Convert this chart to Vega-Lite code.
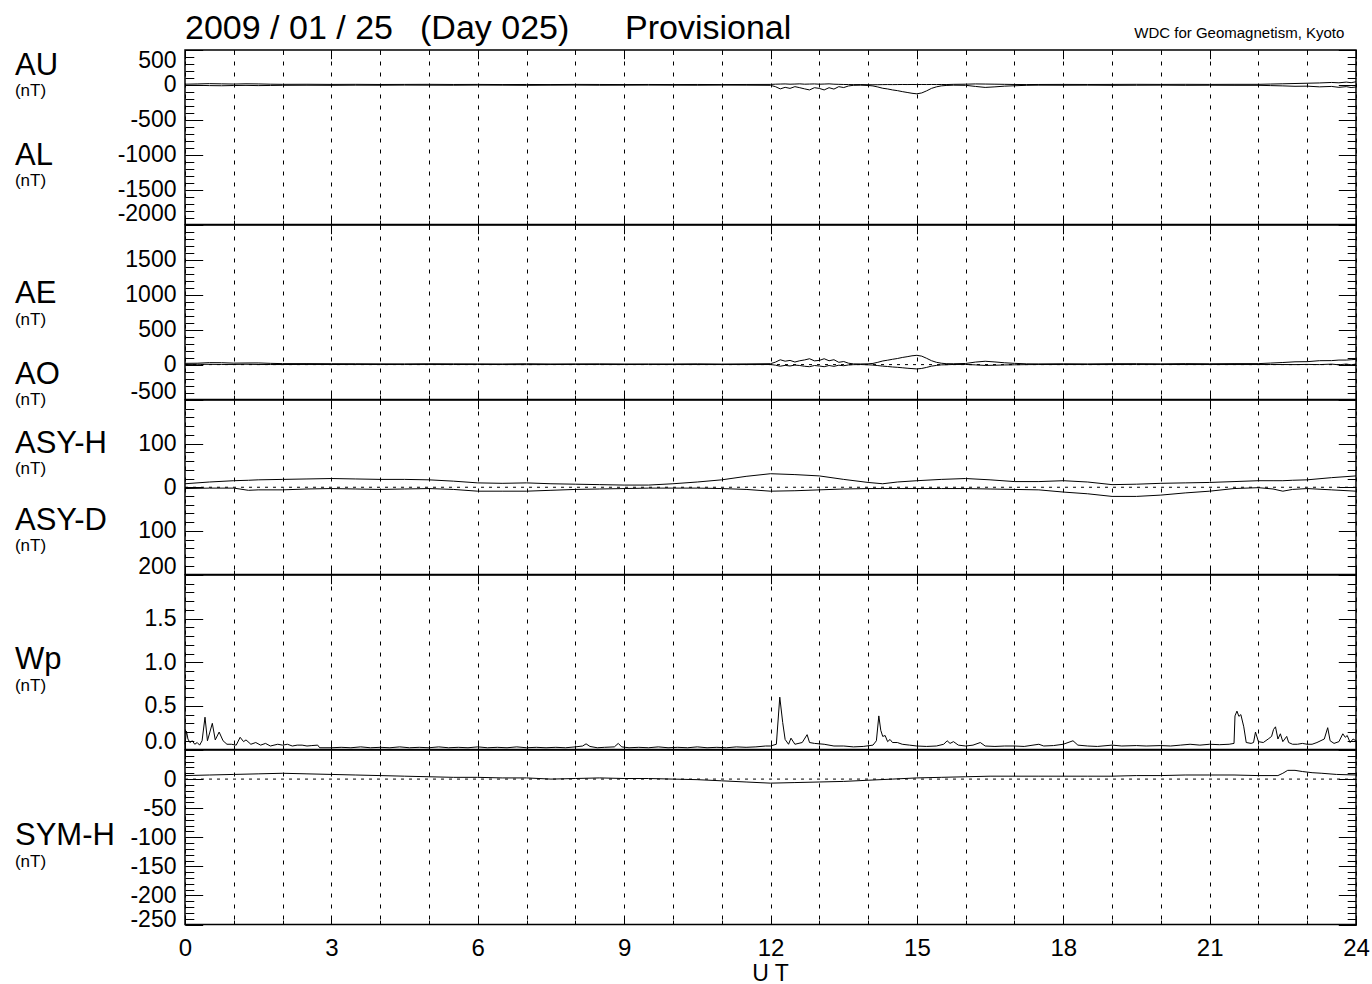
{
  "$schema": "https://vega.github.io/schema/vega-lite/v6.json",
  "padding": {"left": 14, "top": 11, "right": 0, "bottom": 0},
  "background": "white",
  "config": {
    "view": {"stroke": "black", "strokeWidth": 1.5},
    "font": "Liberation Sans",
    "axis": {"domain": false, "tickColor": "black", "tickWidth": 1, "labelColor": "black", "labelFont": "Liberation Sans", "labelFontSize": 23, "labelOverlap": false, "grid": false},
    "text": {"font": "Liberation Sans", "fontWeight": "normal"},
    "line": {"color": "black", "strokeWidth": 1},
    "rule": {"color": "black"}
  },
  "datasets": {
    "one": [{}],
    "ae": [
      {"t":0.0,"au":10,"al":-8,"ae":18,"ao":1},{"t":0.25,"au":14,"al":-6,"ae":20,"ao":4},{"t":0.5,"au":18,"al":-10,"ae":28,"ao":4},{"t":0.75,"au":15,"al":-12,"ae":27,"ao":2},
      {"t":1.0,"au":12,"al":-9,"ae":21,"ao":2},{"t":1.25,"au":16,"al":-7,"ae":23,"ao":5},{"t":1.5,"au":14,"al":-10,"ae":24,"ao":2},{"t":1.75,"au":10,"al":-8,"ae":18,"ao":1},
      {"t":2.0,"au":8,"al":-6,"ae":14,"ao":1},{"t":2.5,"au":9,"al":-5,"ae":14,"ao":2},{"t":3.0,"au":7,"al":-6,"ae":13,"ao":1},{"t":3.5,"au":8,"al":-4,"ae":12,"ao":2},
      {"t":4.0,"au":6,"al":-5,"ae":11,"ao":1},{"t":4.5,"au":7,"al":-3,"ae":10,"ao":2},{"t":5.0,"au":8,"al":-4,"ae":12,"ao":2},{"t":5.5,"au":6,"al":-5,"ae":11,"ao":1},
      {"t":6.0,"au":7,"al":-3,"ae":10,"ao":2},{"t":6.5,"au":5,"al":-4,"ae":9,"ao":1},{"t":7.0,"au":6,"al":-6,"ae":12,"ao":0},{"t":7.5,"au":5,"al":-4,"ae":9,"ao":1},
      {"t":8.0,"au":7,"al":-3,"ae":10,"ao":2},{"t":8.5,"au":6,"al":-5,"ae":11,"ao":1},{"t":9.0,"au":5,"al":-4,"ae":9,"ao":1},{"t":9.5,"au":6,"al":-3,"ae":9,"ao":2},
      {"t":10.0,"au":5,"al":-4,"ae":9,"ao":1},{"t":10.5,"au":6,"al":-5,"ae":11,"ao":1},{"t":11.0,"au":5,"al":-3,"ae":8,"ao":1},{"t":11.5,"au":6,"al":-4,"ae":10,"ao":1},
      {"t":12.0,"au":7,"al":-6,"ae":13,"ao":1},{"t":12.1,"au":10,"al":-25,"ae":35,"ao":-8},{"t":12.2,"au":12,"al":-57,"ae":69,"ao":-23},{"t":12.3,"au":14,"al":-35,"ae":49,"ao":-11},
      {"t":12.4,"au":10,"al":-50,"ae":60,"ao":-20},{"t":12.5,"au":12,"al":-25,"ae":37,"ao":-7},{"t":12.6,"au":15,"al":-40,"ae":55,"ao":-13},{"t":12.7,"au":10,"al":-57,"ae":67,"ao":-24},
      {"t":12.8,"au":12,"al":-72,"ae":84,"ao":-30},{"t":12.9,"au":14,"al":-40,"ae":54,"ao":-13},{"t":13.0,"au":10,"al":-50,"ae":60,"ao":-20},{"t":13.1,"au":12,"al":-72,"ae":84,"ao":-30},
      {"t":13.2,"au":15,"al":-40,"ae":55,"ao":-13},{"t":13.3,"au":10,"al":-60,"ae":70,"ao":-25},{"t":13.4,"au":8,"al":-25,"ae":33,"ao":-9},{"t":13.5,"au":6,"al":-38,"ae":44,"ao":-16},
      {"t":13.6,"au":5,"al":-15,"ae":20,"ao":-5},{"t":13.7,"au":4,"al":-6,"ae":10,"ao":-1},{"t":13.85,"au":5,"al":-4,"ae":9,"ao":1},{"t":14.0,"au":3,"al":-8,"ae":11,"ao":-3},
      {"t":14.1,"au":2,"al":-15,"ae":17,"ao":-7},{"t":14.2,"au":3,"al":-30,"ae":33,"ao":-14},{"t":14.3,"au":4,"al":-48,"ae":52,"ao":-22},{"t":14.4,"au":5,"al":-58,"ae":63,"ao":-27},
      {"t":14.5,"au":4,"al":-72,"ae":76,"ao":-34},{"t":14.6,"au":5,"al":-82,"ae":87,"ao":-39},{"t":14.7,"au":6,"al":-96,"ae":102,"ao":-45},{"t":14.8,"au":5,"al":-108,"ae":113,"ao":-52},
      {"t":14.9,"au":6,"al":-120,"ae":126,"ao":-57},{"t":15.0,"au":5,"al":-128,"ae":133,"ao":-62},{"t":15.1,"au":6,"al":-115,"ae":121,"ao":-55},{"t":15.2,"au":5,"al":-85,"ae":90,"ao":-40},
      {"t":15.3,"au":6,"al":-50,"ae":56,"ao":-22},{"t":15.4,"au":5,"al":-28,"ae":33,"ao":-12},{"t":15.5,"au":6,"al":-14,"ae":20,"ao":-4},{"t":15.6,"au":5,"al":-8,"ae":13,"ao":-2},
      {"t":15.75,"au":8,"al":-4,"ae":12,"ao":2},{"t":16.0,"au":10,"al":-6,"ae":16,"ao":2},{"t":16.2,"au":14,"al":-22,"ae":36,"ao":-4},{"t":16.4,"au":12,"al":-36,"ae":48,"ao":-12},
      {"t":16.6,"au":10,"al":-28,"ae":38,"ao":-9},{"t":16.8,"au":8,"al":-18,"ae":26,"ao":-5},{"t":17.0,"au":6,"al":-12,"ae":18,"ao":-3},{"t":17.25,"au":5,"al":-6,"ae":11,"ao":0},
      {"t":17.5,"au":6,"al":-4,"ae":10,"ao":1},{"t":18.0,"au":7,"al":-5,"ae":12,"ao":1},{"t":18.5,"au":6,"al":-4,"ae":10,"ao":1},{"t":19.0,"au":7,"al":-6,"ae":13,"ao":1},
      {"t":19.5,"au":8,"al":-5,"ae":13,"ao":2},{"t":20.0,"au":7,"al":-4,"ae":11,"ao":2},{"t":20.5,"au":8,"al":-6,"ae":14,"ao":1},{"t":21.0,"au":7,"al":-5,"ae":12,"ao":1},
      {"t":21.5,"au":8,"al":-6,"ae":14,"ao":1},{"t":22.0,"au":8,"al":-6,"ae":14,"ao":1},{"t":22.25,"au":12,"al":-10,"ae":22,"ao":1},{"t":22.5,"au":16,"al":-14,"ae":30,"ao":1},
      {"t":22.75,"au":20,"al":-20,"ae":40,"ao":0},{"t":23.0,"au":24,"al":-18,"ae":42,"ao":3},{"t":23.25,"au":28,"al":-28,"ae":56,"ao":0},{"t":23.5,"au":35,"al":-22,"ae":57,"ao":7},
      {"t":23.65,"au":30,"al":-35,"ae":65,"ao":-3},{"t":23.8,"au":40,"al":-25,"ae":65,"ao":8},{"t":23.9,"au":32,"al":-38,"ae":70,"ao":-3},{"t":24.0,"au":45,"al":-30,"ae":75,"ao":8}
    ],
    "asy": [
      {"t":0,"asyh":8,"asyd":3},{"t":0.5,"asyh":12,"asyd":2},{"t":1,"asyh":15,"asyd":2},{"t":1.3,"asyh":16,"asyd":7},{"t":1.5,"asyh":17,"asyd":6},
      {"t":2,"asyh":18,"asyd":6},{"t":2.5,"asyh":19,"asyd":4},{"t":3,"asyh":20,"asyd":3},{"t":3.5,"asyh":19,"asyd":4},{"t":4,"asyh":18,"asyd":5},
      {"t":4.5,"asyh":18,"asyd":4},{"t":5,"asyh":17,"asyd":3},{"t":5.5,"asyh":14,"asyd":5},{"t":6,"asyh":10,"asyd":9},{"t":6.5,"asyh":9,"asyd":9},
      {"t":7,"asyh":10,"asyd":9},{"t":7.5,"asyh":8,"asyd":7},{"t":8,"asyh":7,"asyd":5},{"t":8.5,"asyh":6,"asyd":4},{"t":9,"asyh":5,"asyd":3},
      {"t":9.5,"asyh":5,"asyd":2},{"t":10,"asyh":8,"asyd":2},{"t":10.5,"asyh":12,"asyd":2},{"t":11,"asyh":17,"asyd":3},{"t":11.5,"asyh":25,"asyd":5},
      {"t":12,"asyh":31,"asyd":9},{"t":12.5,"asyh":29,"asyd":8},{"t":13,"asyh":26,"asyd":6},{"t":13.5,"asyh":18,"asyd":4},{"t":14,"asyh":11,"asyd":3},
      {"t":14.3,"asyh":8,"asyd":3},{"t":14.6,"asyh":12,"asyd":3},{"t":15,"asyh":15,"asyd":3},{"t":15.5,"asyh":18,"asyd":3},{"t":16,"asyh":20,"asyd":3},
      {"t":16.5,"asyh":17,"asyd":4},{"t":17,"asyh":13,"asyd":5},{"t":17.5,"asyh":13,"asyd":6},{"t":18,"asyh":15,"asyd":11},{"t":18.5,"asyh":12,"asyd":15},
      {"t":19,"asyh":6,"asyd":21},{"t":19.5,"asyh":7,"asyd":21},{"t":20,"asyh":9,"asyd":18},{"t":20.5,"asyh":10,"asyd":13},{"t":21,"asyh":11,"asyd":9},
      {"t":21.5,"asyh":13,"asyd":3},{"t":22,"asyh":15,"asyd":1},{"t":22.3,"asyh":15,"asyd":4},{"t":22.5,"asyh":15,"asyd":9},{"t":22.7,"asyh":16,"asyd":5},
      {"t":23,"asyh":17,"asyd":3},{"t":23.5,"asyh":22,"asyd":6},{"t":24,"asyh":26,"asyd":9}
    ],
    "wp": [
      {"t":0,"wp":0.06},{"t":0.03,"wp":0.21},{"t":0.06,"wp":0.12},{"t":0.1,"wp":0.08},{"t":0.15,"wp":0.1},{"t":0.2,"wp":0.06},{"t":0.25,"wp":0.08},{"t":0.3,"wp":0.05},
      {"t":0.35,"wp":0.1},{"t":0.41,"wp":0.37},{"t":0.46,"wp":0.1},{"t":0.51,"wp":0.2},{"t":0.56,"wp":0.3},{"t":0.62,"wp":0.11},{"t":0.7,"wp":0.2},{"t":0.78,"wp":0.1},
      {"t":0.86,"wp":0.06},{"t":0.95,"wp":0.06},{"t":1.05,"wp":0.05},{"t":1.13,"wp":0.14},{"t":1.2,"wp":0.09},{"t":1.25,"wp":0.11},{"t":1.35,"wp":0.06},{"t":1.45,"wp":0.08},
      {"t":1.55,"wp":0.05},{"t":1.65,"wp":0.07},{"t":1.75,"wp":0.04},{"t":1.9,"wp":0.06},{"t":2.0,"wp":0.05},{"t":2.1,"wp":0.06},{"t":2.2,"wp":0.04},{"t":2.3,"wp":0.05},
      {"t":2.4,"wp":0.05},{"t":2.5,"wp":0.04},{"t":2.6,"wp":0.045},{"t":2.72,"wp":0.05},{"t":2.76,"wp":0.02},{"t":3.0,"wp":0.02},{"t":3.2,"wp":0.025},{"t":3.4,"wp":0.02},
      {"t":3.6,"wp":0.03},{"t":3.8,"wp":0.02},{"t":4.0,"wp":0.025},{"t":4.2,"wp":0.02},{"t":4.4,"wp":0.03},{"t":4.6,"wp":0.02},{"t":4.8,"wp":0.025},{"t":5.0,"wp":0.02},
      {"t":5.2,"wp":0.03},{"t":5.4,"wp":0.02},{"t":5.6,"wp":0.025},{"t":5.8,"wp":0.02},{"t":6.0,"wp":0.03},{"t":6.2,"wp":0.02},{"t":6.4,"wp":0.025},{"t":6.6,"wp":0.02},
      {"t":6.8,"wp":0.03},{"t":7.0,"wp":0.02},{"t":7.2,"wp":0.025},{"t":7.4,"wp":0.02},{"t":7.6,"wp":0.025},{"t":7.8,"wp":0.02},{"t":8.0,"wp":0.03},{"t":8.15,"wp":0.04},
      {"t":8.22,"wp":0.065},{"t":8.3,"wp":0.035},{"t":8.45,"wp":0.02},{"t":8.6,"wp":0.025},{"t":8.8,"wp":0.03},{"t":8.88,"wp":0.07},{"t":8.95,"wp":0.03},{"t":9.1,"wp":0.02},
      {"t":9.3,"wp":0.025},{"t":9.5,"wp":0.02},{"t":9.7,"wp":0.03},{"t":9.9,"wp":0.02},{"t":10.1,"wp":0.025},{"t":10.3,"wp":0.02},{"t":10.5,"wp":0.03},{"t":10.7,"wp":0.02},
      {"t":10.9,"wp":0.025},{"t":11.1,"wp":0.02},{"t":11.3,"wp":0.03},{"t":11.5,"wp":0.025},{"t":11.7,"wp":0.03},{"t":11.9,"wp":0.04},{"t":12.0,"wp":0.04},{"t":12.12,"wp":0.06},
      {"t":12.19,"wp":0.6},{"t":12.25,"wp":0.31},{"t":12.3,"wp":0.115},{"t":12.37,"wp":0.06},{"t":12.42,"wp":0.13},{"t":12.5,"wp":0.06},{"t":12.65,"wp":0.08},{"t":12.75,"wp":0.17},
      {"t":12.8,"wp":0.08},{"t":12.9,"wp":0.07},{"t":13.1,"wp":0.06},{"t":13.3,"wp":0.04},{"t":13.5,"wp":0.04},{"t":13.7,"wp":0.03},{"t":13.9,"wp":0.035},{"t":14.1,"wp":0.05},
      {"t":14.17,"wp":0.1},{"t":14.22,"wp":0.385},{"t":14.26,"wp":0.22},{"t":14.3,"wp":0.15},{"t":14.35,"wp":0.16},{"t":14.4,"wp":0.09},{"t":14.45,"wp":0.115},{"t":14.5,"wp":0.08},
      {"t":14.6,"wp":0.08},{"t":14.7,"wp":0.06},{"t":14.85,"wp":0.05},{"t":15.0,"wp":0.04},{"t":15.2,"wp":0.035},{"t":15.4,"wp":0.04},{"t":15.55,"wp":0.06},{"t":15.62,"wp":0.1},
      {"t":15.68,"wp":0.07},{"t":15.75,"wp":0.09},{"t":15.85,"wp":0.05},{"t":16.0,"wp":0.04},{"t":16.15,"wp":0.05},{"t":16.3,"wp":0.08},{"t":16.4,"wp":0.04},{"t":16.6,"wp":0.035},
      {"t":16.8,"wp":0.04},{"t":17.0,"wp":0.04},{"t":17.2,"wp":0.035},{"t":17.5,"wp":0.06},{"t":17.6,"wp":0.04},{"t":17.8,"wp":0.045},{"t":18.0,"wp":0.06},{"t":18.2,"wp":0.1},
      {"t":18.3,"wp":0.05},{"t":18.5,"wp":0.04},{"t":18.7,"wp":0.035},{"t":19.0,"wp":0.05},{"t":19.2,"wp":0.04},{"t":19.5,"wp":0.045},{"t":19.7,"wp":0.04},{"t":20.0,"wp":0.045},
      {"t":20.2,"wp":0.04},{"t":20.4,"wp":0.05},{"t":20.6,"wp":0.06},{"t":20.8,"wp":0.05},{"t":21.0,"wp":0.06},{"t":21.2,"wp":0.055},{"t":21.4,"wp":0.06},{"t":21.5,"wp":0.07},
      {"t":21.52,"wp":0.385},{"t":21.56,"wp":0.44},{"t":21.6,"wp":0.38},{"t":21.64,"wp":0.4},{"t":21.7,"wp":0.26},{"t":21.75,"wp":0.08},{"t":21.85,"wp":0.07},{"t":21.9,"wp":0.08},
      {"t":21.94,"wp":0.2},{"t":22.0,"wp":0.09},{"t":22.1,"wp":0.08},{"t":22.2,"wp":0.12},{"t":22.27,"wp":0.15},{"t":22.31,"wp":0.23},{"t":22.35,"wp":0.26},{"t":22.4,"wp":0.12},
      {"t":22.45,"wp":0.18},{"t":22.5,"wp":0.09},{"t":22.58,"wp":0.15},{"t":22.62,"wp":0.08},{"t":22.7,"wp":0.06},{"t":22.8,"wp":0.06},{"t":22.9,"wp":0.07},{"t":23.0,"wp":0.06},
      {"t":23.1,"wp":0.06},{"t":23.2,"wp":0.08},{"t":23.35,"wp":0.12},{"t":23.42,"wp":0.25},{"t":23.47,"wp":0.1},{"t":23.55,"wp":0.07},{"t":23.65,"wp":0.09},{"t":23.73,"wp":0.18},
      {"t":23.78,"wp":0.14},{"t":23.82,"wp":0.16},{"t":23.88,"wp":0.08},{"t":23.94,"wp":0.12},{"t":24.0,"wp":0.1}
    ],
    "sym": [
      {"t":0,"symh":6},{"t":0.5,"symh":7},{"t":1,"symh":8},{"t":1.5,"symh":9},{"t":2,"symh":10},{"t":2.5,"symh":9},{"t":3,"symh":8},{"t":3.5,"symh":7},
      {"t":4,"symh":6},{"t":4.5,"symh":5},{"t":5,"symh":4},{"t":5.5,"symh":3},{"t":6,"symh":3},{"t":6.5,"symh":2},{"t":7,"symh":2},{"t":7.5,"symh":0},
      {"t":8,"symh":1},{"t":8.5,"symh":2},{"t":9,"symh":1},{"t":9.5,"symh":1},{"t":10,"symh":0},{"t":10.5,"symh":-1},{"t":11,"symh":-3},{"t":11.5,"symh":-5},
      {"t":12,"symh":-7},{"t":12.5,"symh":-6},{"t":13,"symh":-5},{"t":13.5,"symh":-4},{"t":14,"symh":-2},{"t":14.5,"symh":0},{"t":15,"symh":2},{"t":15.5,"symh":3},
      {"t":16,"symh":4},{"t":16.5,"symh":5},{"t":17,"symh":5},{"t":17.5,"symh":5},{"t":18,"symh":5},{"t":18.5,"symh":5},{"t":19,"symh":5},{"t":19.5,"symh":6},
      {"t":20,"symh":6},{"t":20.5,"symh":7},{"t":21,"symh":7},{"t":21.5,"symh":7},{"t":22,"symh":6},{"t":22.4,"symh":6},{"t":22.5,"symh":10},{"t":22.6,"symh":15},
      {"t":22.75,"symh":15},{"t":22.9,"symh":13},{"t":23.1,"symh":11},{"t":23.3,"symh":10},{"t":23.6,"symh":8},{"t":24,"symh":7}
    ]
  },
  "spacing": 0,
  "bounds": "flush",
  "vconcat": [
    {
      "width": 1171, "height": 174.5,
      "data": {"name": "ae"},
      "layer": [
        {"mark": {"type": "line"},
         "encoding": {
           "x": {"field": "t", "type": "quantitative", "scale": {"domain": [0, 24], "nice": false, "zero": false}, "axis": null},
           "y": {"field": "au", "type": "quantitative", "scale": {"domain": [-2000, 500], "nice": false, "zero": false},
                 "axis": {"orient": "left", "values": [-2000, -1500, -1000, -500, 0, 500], "ticks": false, "labelPadding": 9, "labelFlush": true, "labelFlushOffset": 1, "labelExpr": "'' + datum.value", "title": null}}}},
        {"mark": {"type": "line"},
         "encoding": {
           "x": {"field": "t", "type": "quantitative", "axis": {"orient": "bottom", "values": [0,3,6,9,12,15,18,21,24], "tickSize": -8.7, "labels": false, "title": null}},
           "y": {"field": "al", "type": "quantitative", "axis": {"orient": "left", "values": [-2000, -1500, -1000, -500, 0, 500], "tickSize": -17.7, "labels": false, "title": null}}}},
        {"mark": {"type": "line", "opacity": 0},
         "encoding": {
           "x": {"field": "t", "type": "quantitative", "axis": {"orient": "bottom", "values": [0,1,2,3,4,5,6,7,8,9,10,11,12,13,14,15,16,17,18,19,20,21,22,23,24], "tickSize": -4.4, "labels": false, "grid": true, "gridDash": [4, 7], "gridColor": "black", "gridOpacity": 1, "gridWidth": 1, "title": null}},
           "y": {"field": "au", "type": "quantitative", "axis": {"orient": "left", "values": [-2000,-1900,-1800,-1700,-1600,-1500,-1400,-1300,-1200,-1100,-1000,-900,-800,-700,-600,-500,-400,-300,-200,-100,0,100,200,300,400,500], "tickSize": -8.8, "labels": false, "title": null}}}},
        {"mark": {"type": "line", "opacity": 0},
         "encoding": {
           "x": {"field": "t", "type": "quantitative", "axis": {"orient": "top", "values": [0,3,6,9,12,15,18,21,24], "tickSize": -8.7, "labels": false, "title": null}},
           "y": {"field": "au", "type": "quantitative", "axis": {"orient": "right", "values": [-2000, -1500, -1000, -500, 0, 500], "tickSize": -17.7, "labels": false, "title": null}}}},
        {"mark": {"type": "line", "opacity": 0},
         "encoding": {
           "x": {"field": "t", "type": "quantitative", "axis": {"orient": "top", "values": [0,1,2,3,4,5,6,7,8,9,10,11,12,13,14,15,16,17,18,19,20,21,22,23,24], "tickSize": -4.4, "labels": false, "title": null}},
           "y": {"field": "au", "type": "quantitative", "axis": {"orient": "right", "values": [-2000,-1900,-1800,-1700,-1600,-1500,-1400,-1300,-1200,-1100,-1000,-900,-800,-700,-600,-500,-400,-300,-200,-100,0,100,200,300,400,500], "tickSize": -8.8, "labels": false, "title": null}}}},
        {"data": {"name": "one"}, "mark": {"type": "text", "text": "2009 / 01 / 25", "align": "left", "baseline": "alphabetic", "fontSize": 34}, "encoding": {"x": {"datum": 0, "axis": null}, "y": {"datum": 657.6, "axis": null}}},
        {"data": {"name": "one"}, "mark": {"type": "text", "text": "(Day 025)", "align": "left", "baseline": "alphabetic", "fontSize": 34}, "encoding": {"x": {"datum": 4.817, "axis": null}, "y": {"datum": 657.6, "axis": null}}},
        {"data": {"name": "one"}, "mark": {"type": "text", "text": "Provisional", "align": "left", "baseline": "alphabetic", "fontSize": 34}, "encoding": {"x": {"datum": 9.018, "axis": null}, "y": {"datum": 657.6, "axis": null}}},
        {"data": {"name": "one"}, "mark": {"type": "text", "text": "WDC for Geomagnetism, Kyoto", "align": "right", "baseline": "alphabetic", "fontSize": 15}, "encoding": {"x": {"datum": 23.761, "axis": null}, "y": {"datum": 666, "axis": null}}},
        {"data": {"name": "one"}, "mark": {"type": "text", "text": "AU", "align": "left", "baseline": "alphabetic", "fontSize": 31}, "encoding": {"x": {"datum": -3.485, "axis": null}, "y": {"datum": 146, "axis": null}}},
        {"data": {"name": "one"}, "mark": {"type": "text", "text": "(nT)", "align": "left", "baseline": "alphabetic", "fontSize": 17}, "encoding": {"x": {"datum": -3.485, "axis": null}, "y": {"datum": -160, "axis": null}}},
        {"data": {"name": "one"}, "mark": {"type": "text", "text": "AL", "align": "left", "baseline": "alphabetic", "fontSize": 31}, "encoding": {"x": {"datum": -3.485, "axis": null}, "y": {"datum": -1143, "axis": null}}},
        {"data": {"name": "one"}, "mark": {"type": "text", "text": "(nT)", "align": "left", "baseline": "alphabetic", "fontSize": 17}, "encoding": {"x": {"datum": -3.485, "axis": null}, "y": {"datum": -1444, "axis": null}}}
      ],
      "resolve": {"axis": {"x": "independent", "y": "independent"}}
    },
    {
      "width": 1171, "height": 174.5,
      "data": {"name": "ae"},
      "layer": [
        {"mark": {"type": "line"},
         "encoding": {
           "x": {"field": "t", "type": "quantitative", "scale": {"domain": [0, 24], "nice": false, "zero": false}, "axis": null},
           "y": {"field": "ae", "type": "quantitative", "scale": {"domain": [-500, 2000], "nice": false, "zero": false},
                 "axis": {"orient": "left", "values": [-500, 0, 500, 1000, 1500, 2000], "ticks": false, "labelPadding": 9, "labelFlush": true, "labelFlushOffset": 4, "labelExpr": "datum.value == 2000 ? '' : '' + datum.value", "title": null}}}},
        {"mark": {"type": "line"},
         "encoding": {
           "x": {"field": "t", "type": "quantitative", "axis": {"orient": "bottom", "values": [0,3,6,9,12,15,18,21,24], "tickSize": -8.7, "labels": false, "title": null}},
           "y": {"field": "ao", "type": "quantitative", "axis": {"orient": "left", "values": [-500, 0, 500, 1000, 1500, 2000], "tickSize": -17.7, "labels": false, "title": null}}}},
        {"mark": {"type": "line", "opacity": 0},
         "encoding": {
           "x": {"field": "t", "type": "quantitative", "axis": {"orient": "bottom", "values": [0,1,2,3,4,5,6,7,8,9,10,11,12,13,14,15,16,17,18,19,20,21,22,23,24], "tickSize": -4.4, "labels": false, "grid": true, "gridDash": [4, 7], "gridColor": "black", "gridOpacity": 1, "gridWidth": 1, "title": null}},
           "y": {"field": "ae", "type": "quantitative", "axis": {"orient": "left", "values": [-500,-400,-300,-200,-100,0,100,200,300,400,500,600,700,800,900,1000,1100,1200,1300,1400,1500,1600,1700,1800,1900,2000], "tickSize": -8.8, "labels": false, "title": null}}}},
        {"mark": {"type": "line", "opacity": 0},
         "encoding": {
           "x": {"field": "t", "type": "quantitative", "axis": {"orient": "top", "values": [0,3,6,9,12,15,18,21,24], "tickSize": -8.7, "labels": false, "title": null}},
           "y": {"field": "ae", "type": "quantitative", "axis": {"orient": "right", "values": [-500, 0, 500, 1000, 1500, 2000], "tickSize": -17.7, "labels": false, "title": null}}}},
        {"mark": {"type": "line", "opacity": 0},
         "encoding": {
           "x": {"field": "t", "type": "quantitative", "axis": {"orient": "top", "values": [0,1,2,3,4,5,6,7,8,9,10,11,12,13,14,15,16,17,18,19,20,21,22,23,24], "tickSize": -4.4, "labels": false, "title": null}},
           "y": {"field": "ae", "type": "quantitative", "axis": {"orient": "right", "values": [-500,-400,-300,-200,-100,0,100,200,300,400,500,600,700,800,900,1000,1100,1200,1300,1400,1500,1600,1700,1800,1900,2000], "tickSize": -8.8, "labels": false, "title": null}}}},
        {"data": {"name": "one"}, "mark": {"type": "rule", "strokeDash": [3, 5], "strokeWidth": 1}, "encoding": {"y": {"datum": 0, "axis": null}}},
        {"data": {"name": "one"}, "mark": {"type": "text", "text": "AE", "align": "left", "baseline": "alphabetic", "fontSize": 31}, "encoding": {"x": {"datum": -3.485, "axis": null}, "y": {"datum": 884, "axis": null}}},
        {"data": {"name": "one"}, "mark": {"type": "text", "text": "(nT)", "align": "left", "baseline": "alphabetic", "fontSize": 17}, "encoding": {"x": {"datum": -3.485, "axis": null}, "y": {"datum": 570, "axis": null}}},
        {"data": {"name": "one"}, "mark": {"type": "text", "text": "AO", "align": "left", "baseline": "alphabetic", "fontSize": 31}, "encoding": {"x": {"datum": -3.485, "axis": null}, "y": {"datum": -281, "axis": null}}},
        {"data": {"name": "one"}, "mark": {"type": "text", "text": "(nT)", "align": "left", "baseline": "alphabetic", "fontSize": 17}, "encoding": {"x": {"datum": -3.485, "axis": null}, "y": {"datum": -582, "axis": null}}}
      ],
      "resolve": {"axis": {"x": "independent", "y": "independent"}}
    },
    {
      "width": 1171, "height": 174.5,
      "data": {"name": "asy"},
      "layer": [
        {
          "layer": [
            {"mark": {"type": "line"},
             "encoding": {
               "x": {"field": "t", "type": "quantitative", "scale": {"domain": [0, 24], "nice": false, "zero": false}, "axis": null},
               "y": {"field": "asyh", "type": "quantitative", "scale": {"domain": [-200, 200], "nice": false, "zero": false},
                     "axis": {"orient": "left", "values": [-200, -100, 0, 100, 200], "ticks": false, "labelPadding": 9, "labelFlush": true, "labelFlushOffset": 4, "labelExpr": "datum.value == 200 ? '' : '' + abs(datum.value)", "title": null}}}},
            {"mark": {"type": "line", "opacity": 0},
             "encoding": {
               "x": {"field": "t", "type": "quantitative", "axis": {"orient": "bottom", "values": [0,3,6,9,12,15,18,21,24], "tickSize": -8.7, "labels": false, "title": null}},
               "y": {"field": "asyh", "type": "quantitative", "axis": {"orient": "left", "values": [-200, -100, 0, 100, 200], "tickSize": -17.7, "labels": false, "title": null}}}},
            {"mark": {"type": "line", "opacity": 0},
             "encoding": {
               "x": {"field": "t", "type": "quantitative", "axis": {"orient": "bottom", "values": [0,1,2,3,4,5,6,7,8,9,10,11,12,13,14,15,16,17,18,19,20,21,22,23,24], "tickSize": -4.4, "labels": false, "grid": true, "gridDash": [4, 7], "gridColor": "black", "gridOpacity": 1, "gridWidth": 1, "title": null}},
               "y": {"field": "asyh", "type": "quantitative", "axis": {"orient": "left", "values": [-200,-180,-160,-140,-120,-100,-80,-60,-40,-20,0,20,40,60,80,100,120,140,160,180,200], "tickSize": -8.8, "labels": false, "title": null}}}},
            {"mark": {"type": "line", "opacity": 0},
             "encoding": {
               "x": {"field": "t", "type": "quantitative", "axis": {"orient": "top", "values": [0,3,6,9,12,15,18,21,24], "tickSize": -8.7, "labels": false, "title": null}},
               "y": {"field": "asyh", "type": "quantitative", "axis": {"orient": "right", "values": [-200, -100, 0, 100, 200], "tickSize": -17.7, "labels": false, "title": null}}}},
            {"mark": {"type": "line", "opacity": 0},
             "encoding": {
               "x": {"field": "t", "type": "quantitative", "axis": {"orient": "top", "values": [0,1,2,3,4,5,6,7,8,9,10,11,12,13,14,15,16,17,18,19,20,21,22,23,24], "tickSize": -4.4, "labels": false, "title": null}},
               "y": {"field": "asyh", "type": "quantitative", "axis": {"orient": "right", "values": [-200,-180,-160,-140,-120,-100,-80,-60,-40,-20,0,20,40,60,80,100,120,140,160,180,200], "tickSize": -8.8, "labels": false, "title": null}}}},
            {"data": {"name": "one"}, "mark": {"type": "rule", "strokeDash": [3, 5], "strokeWidth": 1}, "encoding": {"y": {"datum": 0, "axis": null}}},
            {"data": {"name": "one"}, "mark": {"type": "text", "text": "ASY-H", "align": "left", "baseline": "alphabetic", "fontSize": 31}, "encoding": {"x": {"datum": -3.485, "axis": null}, "y": {"datum": 77.6, "axis": null}}},
            {"data": {"name": "one"}, "mark": {"type": "text", "text": "(nT)", "align": "left", "baseline": "alphabetic", "fontSize": 17}, "encoding": {"x": {"datum": -3.485, "axis": null}, "y": {"datum": 29.5, "axis": null}}},
            {"data": {"name": "one"}, "mark": {"type": "text", "text": "ASY-D", "align": "left", "baseline": "alphabetic", "fontSize": 31}, "encoding": {"x": {"datum": -3.485, "axis": null}, "y": {"datum": -97.3, "axis": null}}},
            {"data": {"name": "one"}, "mark": {"type": "text", "text": "(nT)", "align": "left", "baseline": "alphabetic", "fontSize": 17}, "encoding": {"x": {"datum": -3.485, "axis": null}, "y": {"datum": -145.4, "axis": null}}}
          ],
          "resolve": {"axis": {"x": "independent", "y": "independent"}}
        },
        {"mark": {"type": "line"},
         "encoding": {
           "x": {"field": "t", "type": "quantitative", "axis": null},
           "y": {"field": "asyd", "type": "quantitative", "scale": {"domain": [-200, 200], "reverse": true, "nice": false, "zero": false}, "axis": null}}}
      ],
      "resolve": {"scale": {"y": "independent"}, "axis": {"x": "independent", "y": "independent"}}
    },
    {
      "width": 1171, "height": 174.5,
      "data": {"name": "wp"},
      "layer": [
        {"mark": {"type": "line"},
         "encoding": {
           "x": {"field": "t", "type": "quantitative", "scale": {"domain": [0, 24], "nice": false, "zero": false}, "axis": null},
           "y": {"field": "wp", "type": "quantitative", "scale": {"domain": [0, 2], "nice": false, "zero": false},
                 "axis": {"orient": "left", "values": [0, 0.5, 1, 1.5, 2], "ticks": false, "labelPadding": 9, "labelFlush": true, "labelFlushOffset": 4, "labelExpr": "datum.value == 2 ? '' : format(datum.value, '.1f')", "title": null}}}},
        {"mark": {"type": "line", "opacity": 0},
         "encoding": {
           "x": {"field": "t", "type": "quantitative", "axis": {"orient": "bottom", "values": [0,3,6,9,12,15,18,21,24], "tickSize": -8.7, "labels": false, "title": null}},
           "y": {"field": "wp", "type": "quantitative", "axis": {"orient": "left", "values": [0, 0.5, 1, 1.5, 2], "tickSize": -17.7, "labels": false, "title": null}}}},
        {"mark": {"type": "line", "opacity": 0},
         "encoding": {
           "x": {"field": "t", "type": "quantitative", "axis": {"orient": "bottom", "values": [0,1,2,3,4,5,6,7,8,9,10,11,12,13,14,15,16,17,18,19,20,21,22,23,24], "tickSize": -4.4, "labels": false, "grid": true, "gridDash": [4, 7], "gridColor": "black", "gridOpacity": 1, "gridWidth": 1, "title": null}},
           "y": {"field": "wp", "type": "quantitative", "axis": {"orient": "left", "values": [0,0.1,0.2,0.3,0.4,0.5,0.6,0.7,0.8,0.9,1,1.1,1.2,1.3,1.4,1.5,1.6,1.7,1.8,1.9,2], "tickSize": -8.8, "labels": false, "title": null}}}},
        {"mark": {"type": "line", "opacity": 0},
         "encoding": {
           "x": {"field": "t", "type": "quantitative", "axis": {"orient": "top", "values": [0,3,6,9,12,15,18,21,24], "tickSize": -8.7, "labels": false, "title": null}},
           "y": {"field": "wp", "type": "quantitative", "axis": {"orient": "right", "values": [0, 0.5, 1, 1.5, 2], "tickSize": -17.7, "labels": false, "title": null}}}},
        {"mark": {"type": "line", "opacity": 0},
         "encoding": {
           "x": {"field": "t", "type": "quantitative", "axis": {"orient": "top", "values": [0,1,2,3,4,5,6,7,8,9,10,11,12,13,14,15,16,17,18,19,20,21,22,23,24], "tickSize": -4.4, "labels": false, "title": null}},
           "y": {"field": "wp", "type": "quantitative", "axis": {"orient": "right", "values": [0,0.1,0.2,0.3,0.4,0.5,0.6,0.7,0.8,0.9,1,1.1,1.2,1.3,1.4,1.5,1.6,1.7,1.8,1.9,2], "tickSize": -8.8, "labels": false, "title": null}}}},
        {"data": {"name": "one"}, "mark": {"type": "text", "text": "Wp", "align": "left", "baseline": "alphabetic", "fontSize": 31}, "encoding": {"x": {"datum": -3.485, "axis": null}, "y": {"datum": 0.92, "axis": null}}},
        {"data": {"name": "one"}, "mark": {"type": "text", "text": "(nT)", "align": "left", "baseline": "alphabetic", "fontSize": 17}, "encoding": {"x": {"datum": -3.485, "axis": null}, "y": {"datum": 0.675, "axis": null}}}
      ],
      "resolve": {"axis": {"x": "independent", "y": "independent"}}
    },
    {
      "width": 1171, "height": 174.5,
      "data": {"name": "sym"},
      "layer": [
        {"mark": {"type": "line"},
         "encoding": {
           "x": {"field": "t", "type": "quantitative", "scale": {"domain": [0, 24], "nice": false, "zero": false},
                 "axis": {"orient": "bottom", "values": [0,3,6,9,12,15,18,21,24], "ticks": false, "labelFlush": false, "labelFontSize": 24, "labelPadding": 12, "labelExpr": "'' + datum.value", "title": null}},
           "y": {"field": "symh", "type": "quantitative", "scale": {"domain": [-250, 50], "nice": false, "zero": false},
                 "axis": {"orient": "left", "values": [-250, -200, -150, -100, -50, 0, 50], "ticks": false, "labelPadding": 9, "labelFlush": true, "labelFlushOffset": 7, "labelExpr": "datum.value == 50 ? '' : '' + datum.value", "title": null}}}},
        {"mark": {"type": "line", "opacity": 0},
         "encoding": {
           "x": {"field": "t", "type": "quantitative", "axis": {"orient": "bottom", "values": [0,3,6,9,12,15,18,21,24], "tickSize": -8.7, "labels": false, "title": null}},
           "y": {"field": "symh", "type": "quantitative", "axis": {"orient": "left", "values": [-250, -200, -150, -100, -50, 0, 50], "tickSize": -17.7, "labels": false, "title": null}}}},
        {"mark": {"type": "line", "opacity": 0},
         "encoding": {
           "x": {"field": "t", "type": "quantitative", "axis": {"orient": "bottom", "values": [0,1,2,3,4,5,6,7,8,9,10,11,12,13,14,15,16,17,18,19,20,21,22,23,24], "tickSize": -4.4, "labels": false, "grid": true, "gridDash": [4, 7], "gridColor": "black", "gridOpacity": 1, "gridWidth": 1, "title": null}},
           "y": {"field": "symh", "type": "quantitative", "axis": {"orient": "left", "values": [-250,-240,-230,-220,-210,-200,-190,-180,-170,-160,-150,-140,-130,-120,-110,-100,-90,-80,-70,-60,-50,-40,-30,-20,-10,0,10,20,30,40,50], "tickSize": -8.8, "labels": false, "title": null}}}},
        {"mark": {"type": "line", "opacity": 0},
         "encoding": {
           "x": {"field": "t", "type": "quantitative", "axis": {"orient": "top", "values": [0,3,6,9,12,15,18,21,24], "tickSize": -8.7, "labels": false, "title": null}},
           "y": {"field": "symh", "type": "quantitative", "axis": {"orient": "right", "values": [-250, -200, -150, -100, -50, 0, 50], "tickSize": -17.7, "labels": false, "title": null}}}},
        {"mark": {"type": "line", "opacity": 0},
         "encoding": {
           "x": {"field": "t", "type": "quantitative", "axis": {"orient": "top", "values": [0,1,2,3,4,5,6,7,8,9,10,11,12,13,14,15,16,17,18,19,20,21,22,23,24], "tickSize": -4.4, "labels": false, "title": null}},
           "y": {"field": "symh", "type": "quantitative", "axis": {"orient": "right", "values": [-250,-240,-230,-220,-210,-200,-190,-180,-170,-160,-150,-140,-130,-120,-110,-100,-90,-80,-70,-60,-50,-40,-30,-20,-10,0,10,20,30,40,50], "tickSize": -8.8, "labels": false, "title": null}}}},
        {"data": {"name": "one"}, "mark": {"type": "rule", "strokeDash": [3, 5], "strokeWidth": 1}, "encoding": {"y": {"datum": 0, "axis": null}}},
        {"data": {"name": "one"}, "mark": {"type": "text", "text": "SYM-H", "align": "left", "baseline": "alphabetic", "fontSize": 31}, "encoding": {"x": {"datum": -3.485, "axis": null}, "y": {"datum": -114, "axis": null}}},
        {"data": {"name": "one"}, "mark": {"type": "text", "text": "(nT)", "align": "left", "baseline": "alphabetic", "fontSize": 17}, "encoding": {"x": {"datum": -3.485, "axis": null}, "y": {"datum": -150.6, "axis": null}}},
        {"data": {"name": "one"}, "mark": {"type": "text", "text": "U T", "align": "center", "baseline": "alphabetic", "fontSize": 23}, "encoding": {"x": {"datum": 12, "axis": null}, "y": {"datum": -347, "axis": null}}}
      ],
      "resolve": {"axis": {"x": "independent", "y": "independent"}}
    }
  ]
}
